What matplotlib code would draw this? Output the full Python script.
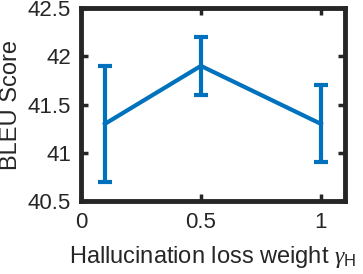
import matplotlib
matplotlib.use("Agg")
import matplotlib.pyplot as plt

# hallucination loss weight vs BLEU
gamma_h = [0.1, 0.5, 1.0]
bleu = [41.3, 41.9, 41.3]
bleu_err = [0.6, 0.3, 0.4]
xticks = [0, 0.5, 1]
yticks = [40.5, 41, 41.5, 42, 42.5]

plt.rcParams["font.family"] = ["Liberation Sans", "DejaVu Sans"]
plt.rcParams["mathtext.fontset"] = "custom"
plt.rcParams["mathtext.rm"] = "Liberation Sans"
plt.rcParams["mathtext.it"] = "Liberation Serif:italic"

fig = plt.figure(figsize=(3.63, 2.74), dpi=100)
ax = fig.add_axes([0.223, 0.266, 0.727, 0.705])

ax.errorbar(gamma_h, bleu, yerr=bleu_err, color="#0072BD", lw=3,
            elinewidth=3, capsize=5, capthick=3)

ax.set_xlim(0, 1.1)
ax.set_ylim(40.5, 42.5)
ax.set_xticks(xticks)
ax.set_xticklabels(["0", "0.5", "1"])
ax.set_yticks(yticks)
ax.set_yticklabels(["40.5", "41", "41.5", "42", "42.5"])
ax.tick_params(direction="in", top=True, right=True, length=5, width=2.5,
               color="#262626", labelsize=16, labelcolor="#262626")
ax.tick_params(axis="x", pad=8)
ax.tick_params(axis="y", pad=7)
for s in ax.spines.values():
    s.set_linewidth(3.5)
    s.set_color("#262626")

ax.set_ylabel("BLEU Score", fontsize=17, color="#262626")
ax.set_xlabel(r"Hallucination loss weight $\gamma_{\mathrm{H}}$", fontsize=17,
              color="#262626")
ax.yaxis.set_label_coords(-0.225, 0.5)
ax.xaxis.set_label_coords(0.5, -0.22)

plt.savefig("out.png", dpi=100)
